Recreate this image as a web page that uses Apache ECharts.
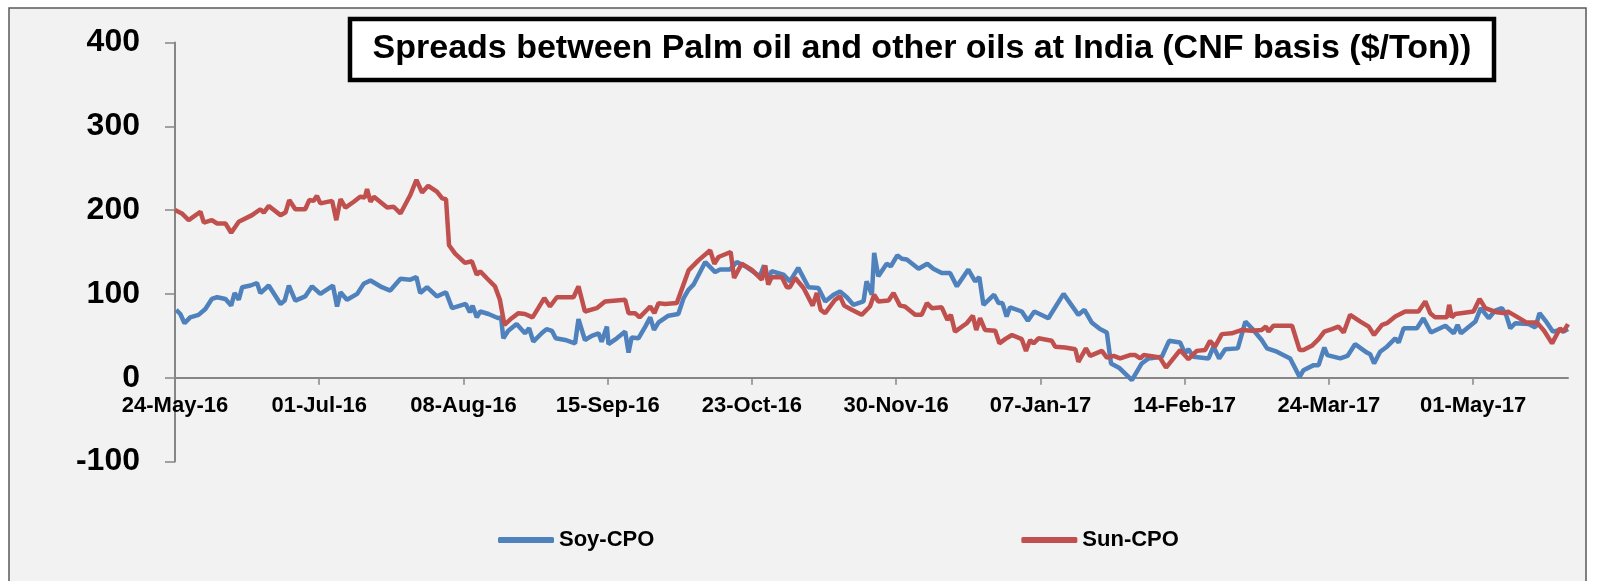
<!DOCTYPE html>
<html>
<head>
<meta charset="utf-8">
<script src="https://cdn.jsdelivr.net/npm/echarts@6/dist/echarts.min.js"></script>
<style>
  html, body { margin: 0; padding: 0; background: #fff; }
  #chart { width: 1597px; height: 581px; }
</style>
</head>
<body>
<div id="chart"></div>
<script>
  // x = days since 24-May-16
  const START = Date.UTC(2016, 4, 24)
  const xTickDays = [0, 38, 76, 114, 152, 190, 228, 266, 304, 342]

  const soyDays = [0.3, 1.4, 2.5, 4, 6.2, 8, 9.7, 11.1, 13.3, 14.8, 15.7, 16.8, 17.7, 19.9, 21.6, 22.5, 24.7, 27.8, 28.9, 30,
    31.7, 34.3, 36.1, 38.3, 41.6, 42.7, 43.6, 45.3, 48, 49.7, 51.5, 54.5, 56.7, 59.4, 62, 63.6, 64.6, 66.4, 69, 71.4,
    73, 76.6, 77.7, 78.4, 79.5, 80.4, 82.6, 85.2, 85.9, 86.5, 87.8, 90, 92.2, 93.3, 94.4, 96.6, 97.9, 99.3, 100.3, 102.8,
    105.4, 106.3, 108, 109.8, 111.6, 112.4, 113.8, 114.2, 116.4, 118.6, 119.5, 120.3, 122.1, 123.9, 125.2, 126.2, 127.4, 130, 132.6, 134,
    135.3, 136.6, 139.7, 142.3, 143.6, 146.2, 148, 150.6, 154.1, 155.2, 156.1, 157.2, 160.3, 162, 164.2, 166.9, 169.5, 171.3, 173.5, 175.2,
    177, 178.7, 181.4, 182.2, 183.6, 184.2, 185.3, 187.5, 188.6, 190.3, 191.5, 192.8, 195.9, 198.2, 199.8, 202, 204.2, 206, 209, 210.8,
    211.9, 213, 215.8, 217, 218, 219.1, 220, 223.1, 224.7, 226.4, 230.1, 234.1, 238, 239.6, 241.5, 243.7, 245.5, 246.6, 248.7, 252.1,
    254.7, 256.5, 260, 261.9, 264.8, 266.1, 267, 268.3, 272.3, 273.6, 275.1, 276.7, 280, 282, 283.7, 286.3, 287.7, 290.3, 293.8, 296.3,
    297.3, 300, 301.3, 302.8, 303.6, 307, 308.9, 310.9, 314, 314.9, 315.9, 317.5, 319.3, 321.5, 322.4, 323.7, 327.2, 328.9, 330.9, 334.7,
    336.9, 337.9, 338.8, 342.6, 344, 346.1, 347.8, 349.6, 350.7, 351.8, 353.1, 356.6, 358.4, 359.5, 361.4, 363, 364.9, 365.8, 367]
  const soyValues = [81, 76, 65, 72, 75, 82, 94, 96, 94, 86, 101, 93, 108, 110, 113, 101, 110, 88, 92, 110,
    92, 97, 109, 100, 110, 85, 102, 93, 100, 112, 116, 108, 104, 118, 117, 120, 101, 108, 97, 102,
    83, 88, 78, 86, 72, 79, 76, 71, 72, 47, 56, 64, 53, 59, 43, 53, 58, 56, 47, 45,
    41, 70, 45, 50, 53, 43, 61, 40, 47, 55, 30, 48, 47, 61, 72, 57, 66, 74, 76, 95,
    105, 111, 138, 126, 129, 129, 138, 132, 121, 134, 117, 127, 123, 115, 131, 108, 107, 91, 99, 103,
    96, 87, 91, 115, 99, 149, 121, 136, 133, 146, 142, 141, 130, 136, 130, 125, 125, 109, 129, 115,
    120, 87, 99, 89, 89, 73, 84, 79, 68, 79, 71, 100, 75, 81, 66, 58, 54, 17, 12, -3,
    17, 23, 25, 44, 42, 29, 34, 25, 23, 37, 23, 34, 35, 67, 59, 45, 35, 31, 23, 1,
    9, 15, 15, 36, 27, 23, 26, 40, 30, 28, 17, 31, 37, 47, 42, 59, 59, 71, 54, 62,
    53, 63, 53, 67, 83, 71, 80, 83, 75, 59, 65, 64, 60, 77, 66, 55, 57, 55, 58]

  const sunDays = [0, 1.8, 3.6, 6.7, 7.6, 9.7, 11.1, 13.3, 14.8, 16.8, 20.3, 22.5, 23.4, 24.7, 27.8, 29.1, 30.1, 31.7, 34.3, 35.4,
    36.5, 37.4, 38.3, 41.4, 42.5, 43.6, 44.9, 47.1, 48.8, 50, 50.6, 51.5, 52.4, 55.9, 57.6, 59.4, 62, 63.6, 65.1, 66.7,
    69, 70.4, 71.4, 72.2, 73.8, 76.4, 78.2, 79.5, 80.4, 82.1, 84.3, 85.6, 86.8, 88.7, 90.5, 92.2, 94.2, 95.7, 97.3, 98.8,
    100.6, 105, 106.3, 108, 111.1, 113.3, 118.6, 119.5, 121.2, 122.4, 125.2, 126.3, 127.4, 129.1, 132.2, 135.3, 137.9, 141, 142.1, 143.2,
    146.4, 147.3, 149.3, 151.9, 154.6, 155.5, 156.3, 157.2, 159.9, 161.2, 162, 163.4, 165.6, 168, 169.1, 170.1, 171.3, 173.9, 175.2, 176.3,
    178.3, 180.9, 183.1, 184.2, 185.3, 188, 189.3, 191, 192.3, 195, 196.7, 198.1, 199.4, 202, 203.5, 204.4, 205.5, 208.6, 210.2, 211.1,
    212.1, 213.4, 216.1, 217.2, 218.7, 220.5, 223.1, 224.2, 225.3, 226.2, 227.5, 231, 231.9, 234.5, 237.2, 238, 240, 241.1, 244.2, 245.5,
    247.3, 249, 251.6, 253, 254.3, 255.2, 259.5, 261.1, 264.8, 267, 269.2, 271.4, 272.7, 274, 275.8, 278.4, 281.1, 283.7, 286.3, 287.4,
    288.1, 289.4, 294.3, 296.3, 297.3, 299.5, 301.3, 302.8, 304.8, 306.5, 307.9, 309.6, 312.3, 314.5, 315.9, 318, 319.3, 321.5, 322.4, 324.1,
    327.6, 329.4, 330.7, 332, 335.1, 335.7, 336.4, 337.3, 342.1, 343.7, 345.2, 348.3, 350.5, 351.1, 352.7, 356, 358.8, 360.7, 362.8, 364.9,
    365.8, 367]
  const sunValues = [200, 196, 188, 198, 185, 188, 184, 184, 173, 186, 194, 201, 197, 205, 194, 197, 212, 201, 201, 212,
    211, 217, 208, 211, 188, 213, 203, 210, 216, 215, 225, 210, 216, 203, 204, 196, 218, 236, 221, 229,
    222, 214, 213, 158, 148, 137, 139, 123, 127, 119, 109, 93, 63, 71, 77, 76, 72, 83, 95, 85,
    96, 96, 109, 79, 83, 91, 93, 77, 77, 72, 85, 77, 89, 88, 89, 128, 140, 152, 136, 144,
    150, 119, 136, 129, 117, 134, 111, 120, 120, 108, 108, 119, 107, 86, 101, 81, 77, 93, 97, 86,
    81, 75, 85, 99, 91, 92, 101, 86, 85, 75, 75, 89, 83, 84, 69, 75, 55, 65, 74, 57,
    71, 57, 56, 41, 46, 51, 46, 32, 45, 41, 47, 44, 37, 36, 34, 19, 35, 26, 32, 24,
    26, 23, 27, 27, 23, 27, 24, 12, 33, 22, 32, 33, 44, 37, 52, 53, 57, 56, 57, 61,
    55, 62, 62, 33, 33, 38, 46, 55, 58, 61, 54, 75, 67, 61, 51, 63, 65, 73, 75, 79,
    79, 91, 77, 72, 72, 87, 72, 76, 79, 94, 83, 78, 77, 79, 75, 66, 66, 56, 41, 59,
    55, 64]

  const MONTHS = ['Jan', 'Feb', 'Mar', 'Apr', 'May', 'Jun', 'Jul', 'Aug', 'Sep', 'Oct', 'Nov', 'Dec']
  function dayLabel(d) {
    const dt = new Date(START + Math.round(d) * 86400000)
    const dd = String(dt.getUTCDate()).padStart(2, '0')
    const yy = String(dt.getUTCFullYear()).slice(2)
    return dd + '-' + MONTHS[dt.getUTCMonth()] + '-' + yy
  }

  const FONT = '"Liberation Sans", Arial, sans-serif'
  const myChart = echarts.init(document.getElementById('chart'))

  // grid geometry (px); x axis sits on the 0 line, i.e. 1/5 of the height above the bottom
  const GRID_TOP = 42.5, GRID_BOTTOM = 119.5
  const plotH = 581 - GRID_TOP - GRID_BOTTOM

  let option = {
    backgroundColor: '#fff',
    animation: false,
    color: ['#4f81bd', '#c0504d'],
    graphic: [
      // chart area + thin frame
      {
        type: 'rect', z: -10, silent: true,
        shape: { x: 9, y: 8, width: 1577, height: 600 },
        style: { fill: '#f2f2f2', stroke: '#595959', lineWidth: 1.5 }
      },
      // boxed title
      {
        type: 'rect', z: 10,
        shape: { x: 350, y: 19, width: 1144, height: 61 },
        style: { fill: '#fff', stroke: '#000', lineWidth: 4.5 }
      },
      {
        type: 'text', z: 11,
        x: 922, y: 49,
        style: {
          text: 'Spreads between Palm oil and other oils at India (CNF basis ($/Ton))',
          fontFamily: FONT, fontWeight: 'bold', fontSize: 34,
          fill: '#000', align: 'center', verticalAlign: 'middle'
        }
      }
    ],
    legend: {
      data: ['Soy-CPO', 'Sun-CPO'],
      left: 493,
      top: 524,
      icon: 'roundRect',
      itemWidth: 56,
      itemHeight: 6,
      itemGap: 367,
      textStyle: { fontFamily: FONT, fontWeight: 'bold', fontSize: 22, color: '#000' }
    },
    grid: {
      left: 175, right: 29, top: GRID_TOP, bottom: GRID_BOTTOM,
      containLabel: false,
      outerBoundsMode: 'none'
    },
    xAxis: {
      type: 'value',
      min: 0,
      max: 367,
      offset: -plotH / 5,
      axisLine: { onZero: false, lineStyle: { color: '#868686', width: 2 } },
      axisTick: { show: true, length: 7, customValues: xTickDays, lineStyle: { color: '#868686', width: 1.5 } },
      axisLabel: {
        customValues: xTickDays,
        formatter: dayLabel,
        margin: 17,
        fontFamily: FONT, fontWeight: 'bold', fontSize: 22, color: '#000'
      },
      splitLine: { show: false }
    },
    yAxis: {
      type: 'value',
      min: -100,
      max: 400,
      interval: 100,
      axisLine: { show: true, lineStyle: { color: '#868686', width: 2 } },
      axisTick: { show: true, length: 10, lineStyle: { color: '#868686', width: 1.5 } },
      axisLabel: {
        margin: 35,
        fontFamily: FONT, fontWeight: 'bold', fontSize: 32, color: '#000'
      },
      splitLine: { show: false }
    },
    series: [
      {
        name: 'Soy-CPO',
        type: 'line',
        showSymbol: false,
        lineStyle: { width: 4.5, color: '#4f81bd' },
        data: soyDays.map((d, i) => [d, soyValues[i]])
      },
      {
        name: 'Sun-CPO',
        type: 'line',
        showSymbol: false,
        lineStyle: { width: 4.5, color: '#c0504d' },
        data: sunDays.map((d, i) => [d, sunValues[i]])
      }
    ]
  }

  myChart.setOption(option)
</script>
</body>
</html>
